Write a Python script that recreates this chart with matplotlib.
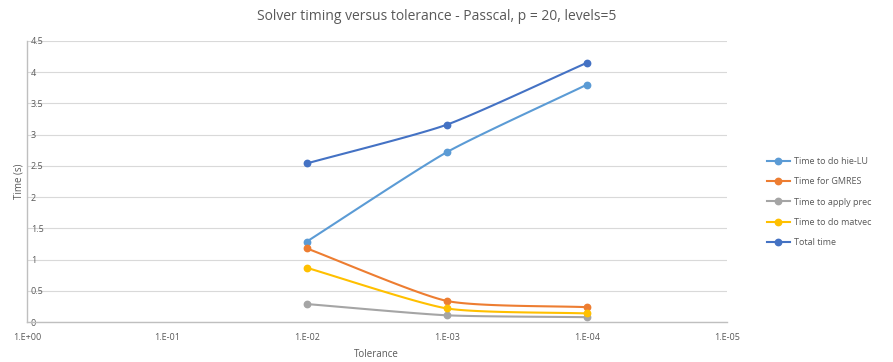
import numpy as np
import matplotlib.pyplot as plt

tolerance = [1e-2, 1e-3, 1e-4]
hie_lu = [1.29, 2.72, 3.80]
gmres = [1.18, 0.34, 0.24]
apply_prec = [0.29, 0.11, 0.08]
matvec = [0.87, 0.22, 0.14]
total = [2.54, 3.16, 4.15]

series = [
    ("Time to do hie-LU", hie_lu, "#5B9BD5"),
    ("Time for GMRES", gmres, "#ED7D31"),
    ("Time to apply prec", apply_prec, "#A5A5A5"),
    ("Time to do matvec", matvec, "#FFC000"),
    ("Total time", total, "#4472C4"),
]

x_ticks = [1e0, 1e-1, 1e-2, 1e-3, 1e-4, 1e-5]
x_labels = ["1.E+00", "1.E-01", "1.E-02", "1.E-03", "1.E-04", "1.E-05"]


def smooth(xs, ys, n=40):
    # Catmull-Rom through the points, done in log10(x)
    lx = np.log10(xs)
    px = np.concatenate([[2 * lx[0] - lx[1]], lx, [2 * lx[-1] - lx[-2]]])
    py = np.concatenate([[2 * ys[0] - ys[1]], ys, [2 * ys[-1] - ys[-2]]])
    outx, outy = [], []
    for i in range(1, len(px) - 2):
        t = np.linspace(0, 1, n)
        for p, out in ((px, outx), (py, outy)):
            p0, p1, p2, p3 = p[i - 1], p[i], p[i + 1], p[i + 2]
            m1 = (p2 - p0) / 2 * 0.6
            m2 = (p3 - p1) / 2 * 0.6
            h00 = 2 * t**3 - 3 * t**2 + 1
            h10 = t**3 - 2 * t**2 + t
            h01 = -2 * t**3 + 3 * t**2
            h11 = t**3 - t**2
            out.extend(h00 * p1 + h10 * m1 + h01 * p2 + h11 * m2)
    return 10 ** np.array(outx), np.array(outy)


plt.rcParams['font.family'] = ['Open Sans', 'DejaVu Sans']
fig = plt.figure(figsize=(8.93, 3.62), dpi=100)
ax = fig.add_axes([0.030, 0.110, 0.784, 0.777])

for name, vals, col in series:
    sx, sy = smooth(np.array(tolerance), np.array(vals))
    ax.plot(sx, sy, color=col, lw=1.5, zorder=3)
    ax.plot(tolerance, vals, 'o', color=col, ms=4.6, zorder=4)
    ax.plot([], [], '-o', color=col, lw=1.5, ms=4.6, label=name)

ax.set_xscale('log')
ax.set_xlim(1e0, 1e-5)
ax.set_xticks(x_ticks)
ax.set_xticklabels(x_labels)
ax.minorticks_off()
ax.set_ylim(0, 4.5)
ax.set_yticks(np.arange(0, 4.6, 0.5))
ax.set_yticklabels(["0", "0.5", "1", "1.5", "2", "2.5", "3", "3.5", "4", "4.5"])

ax.grid(axis='y', color='#D9D9D9', lw=0.8)
ax.set_axisbelow(True)
for s in ['top', 'right']:
    ax.spines[s].set_visible(False)
for s in ['left', 'bottom']:
    ax.spines[s].set_color('#BFBFBF')
    ax.spines[s].set_linewidth(1.0)

ax.tick_params(axis='both', length=0, colors='#595959', labelsize=6.5)
ax.tick_params(axis='y', pad=-3)
for lab in ax.get_yticklabels():
    lab.set_horizontalalignment('left')
ax.tick_params(axis='x', pad=8)

ax.set_ylabel("Time (s)", color='#595959', fontsize=7, labelpad=2)
ax.set_xlabel("Tolerance", color='#595959', fontsize=7, labelpad=5)
ax.set_title("Solver timing versus tolerance - Passcal, p = 20, levels=5",
             color='#595959', fontsize=10, pad=15, x=0.585)

ax.legend(loc='center left', bbox_to_anchor=(1.045, 0.427), frameon=False,
          fontsize=6.5, labelcolor='#595959', handlelength=2.6,
          handletextpad=0.4, labelspacing=1.25)

fig.savefig("out.png", dpi=100)
